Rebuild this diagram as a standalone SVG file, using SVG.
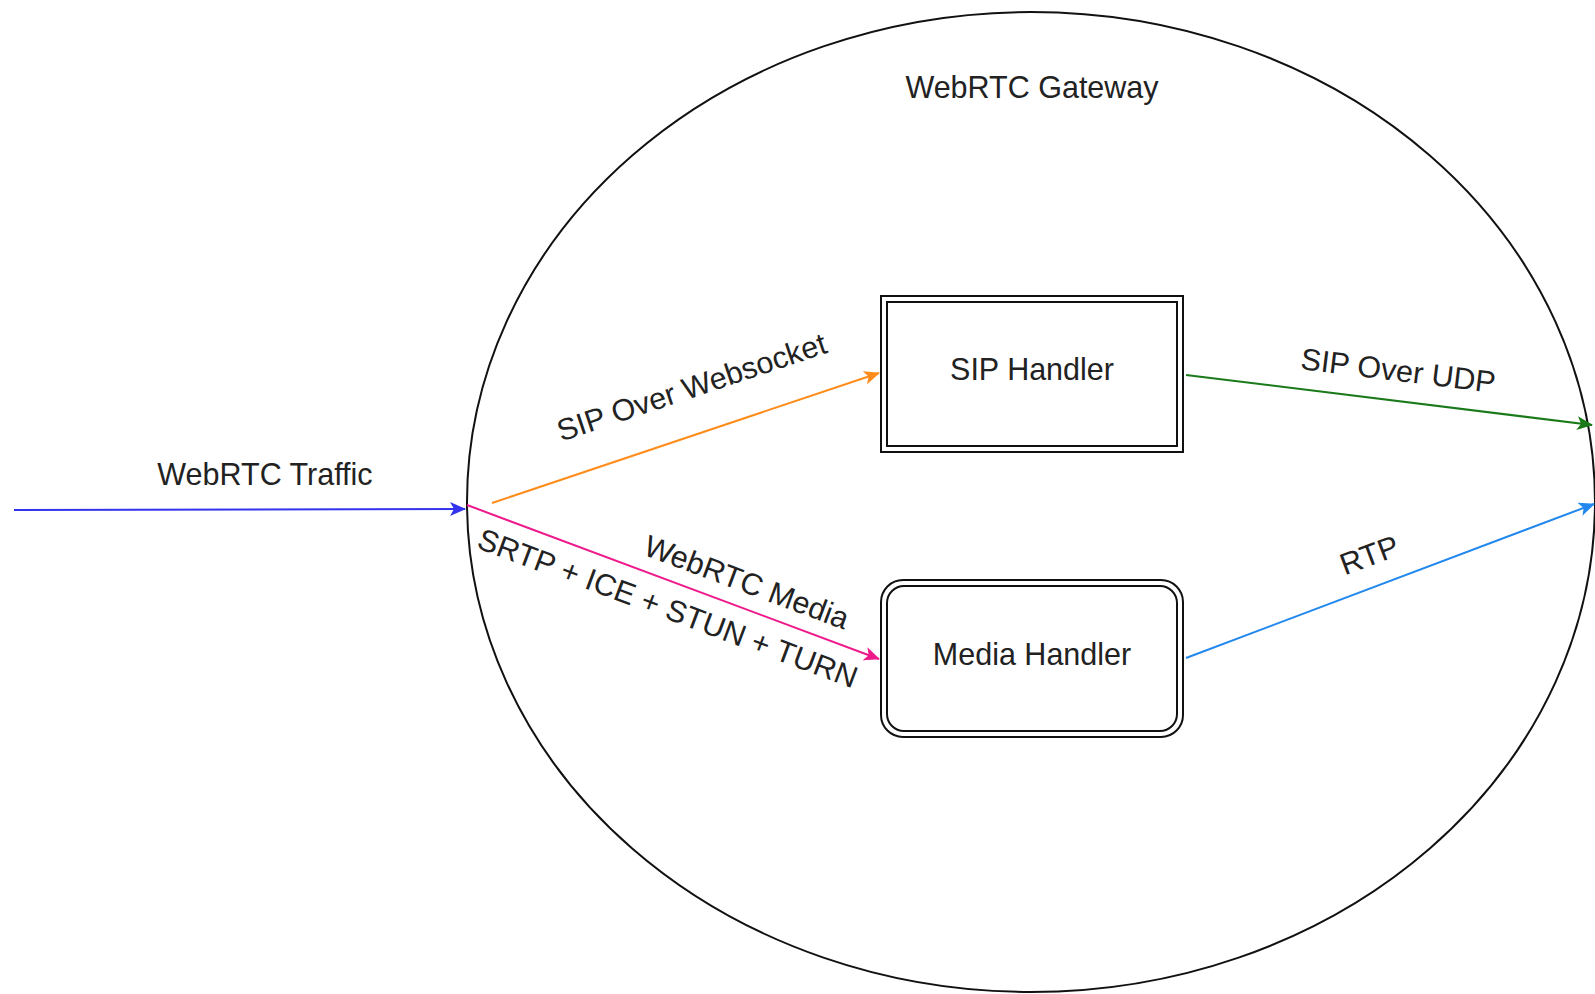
<svg xmlns="http://www.w3.org/2000/svg" width="1595" height="994" viewBox="0 0 1595 994">
<style>
text{font-family:"Liberation Sans",Arial,sans-serif;font-size:30.5px;fill:#222;}
.c{text-anchor:middle;}
.edge{fill:none;stroke-width:2;}
</style>
<defs>
<marker id="aBlue" viewBox="0 0 16 14" refX="15" refY="7" markerWidth="16" markerHeight="14" markerUnits="userSpaceOnUse" orient="auto"><path d="M0,0 L16,7 L0,14 L4,7 Z" fill="#3333ee"/></marker>
<marker id="aOrange" viewBox="0 0 16 14" refX="15" refY="7" markerWidth="16" markerHeight="14" markerUnits="userSpaceOnUse" orient="auto"><path d="M0,0 L16,7 L0,14 L4,7 Z" fill="#ff8c1a"/></marker>
<marker id="aPink" viewBox="0 0 16 14" refX="15" refY="7" markerWidth="16" markerHeight="14" markerUnits="userSpaceOnUse" orient="auto"><path d="M0,0 L16,7 L0,14 L4,7 Z" fill="#ee1a8c"/></marker>
<marker id="aGreen" viewBox="0 0 16 14" refX="15" refY="7" markerWidth="16" markerHeight="14" markerUnits="userSpaceOnUse" orient="auto"><path d="M0,0 L16,7 L0,14 L4,7 Z" fill="#1a7a1a"/></marker>
<marker id="aSky" viewBox="0 0 16 14" refX="15" refY="7" markerWidth="16" markerHeight="14" markerUnits="userSpaceOnUse" orient="auto"><path d="M0,0 L16,7 L0,14 L4,7 Z" fill="#2288ee"/></marker>
</defs>
<rect width="1595" height="994" fill="#fff"/>
<g id="gateway">
<ellipse cx="1031" cy="502" rx="564" ry="490" fill="#fff" stroke="#111" stroke-width="2"/>
<text class="c" x="1032" y="98">WebRTC Gateway</text>
</g>
<g id="sip-handler">
<rect x="881" y="296" width="302" height="156" fill="#fff" stroke="#111" stroke-width="2"/>
<rect x="887" y="302" width="290" height="144" fill="none" stroke="#111" stroke-width="2"/>
<text class="c" x="1032" y="380">SIP Handler</text>
</g>
<g id="media-handler">
<rect x="881" y="580" width="302" height="157" rx="22" fill="#fff" stroke="#111" stroke-width="2"/>
<rect x="887" y="586" width="290" height="145" rx="17" fill="none" stroke="#111" stroke-width="2"/>
<text class="c" x="1032" y="665">Media Handler</text>
</g>
<g id="connectors">
<line class="edge" x1="14" y1="510" x2="465" y2="509" stroke="#3333ee" marker-end="url(#aBlue)"/>
<text class="c" x="265" y="485">WebRTC Traffic</text>
<line class="edge" x1="492" y1="503" x2="879" y2="373" stroke="#ff8c1a" marker-end="url(#aOrange)"/>
<text class="c" transform="translate(695,397) rotate(-18.5)">SIP Over Websocket</text>
<line class="edge" x1="467" y1="505" x2="879" y2="659" stroke="#ee1a8c" marker-end="url(#aPink)"/>
<text class="c" transform="translate(743,592) rotate(20.5)">WebRTC Media</text>
<text class="c" transform="translate(664,618) rotate(20.5)">SRTP + ICE + STUN + TURN</text>
<line class="edge" x1="1186" y1="375" x2="1592" y2="425" stroke="#1a7a1a" marker-end="url(#aGreen)"/>
<text class="c" transform="translate(1397,381) rotate(7)">SIP Over UDP</text>
<line class="edge" x1="1186" y1="658" x2="1594" y2="504" stroke="#2288ee" marker-end="url(#aSky)"/>
<text class="c" transform="translate(1373,565) rotate(-20.5)">RTP</text>
</g>
</svg>
